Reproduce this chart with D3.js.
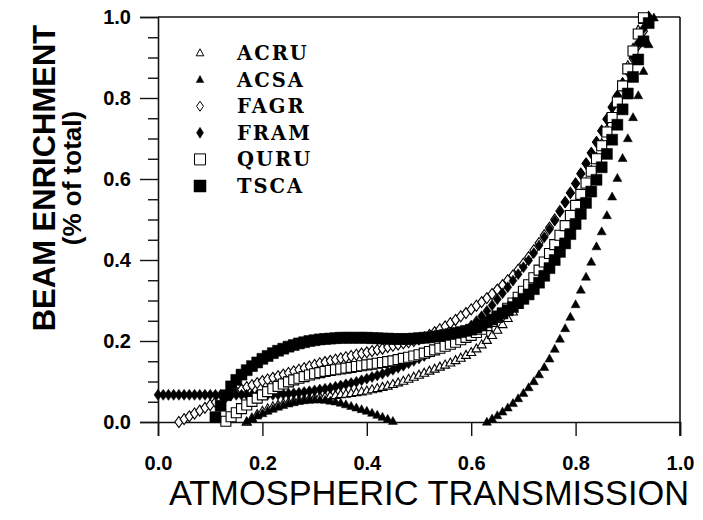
<!DOCTYPE html>
<html><head><meta charset="utf-8">
<script src="https://cdn.jsdelivr.net/npm/d3@7/dist/d3.min.js"></script>
<style>body{margin:0;background:#fff}svg{display:block}</style>
</head><body>
<svg id="chart" width="703" height="520"></svg>
<script>
// ---------- data ----------
const seriesNames = ["ACRU", "ACSA", "FAGR", "FRAM", "QURU", "TSCA"];
const xTicks = [0.0, 0.2, 0.4, 0.6, 0.8, 1.0];
const yTicks = [0.0, 0.2, 0.4, 0.6, 0.8, 1.0];
const yMinorTicks = [0.05, 0.1, 0.15, 0.25, 0.3, 0.35, 0.45, 0.5, 0.55, 0.65, 0.7, 0.75, 0.85, 0.9, 0.95];

const acru = [[0.17,0.000],[0.18,0.010],[0.19,0.019],[0.20,0.027],[0.21,0.033],[0.22,0.038],[0.23,0.042],[0.24,0.046],[0.25,0.049],[0.26,0.052],
[0.27,0.054],[0.28,0.056],[0.29,0.058],[0.30,0.060],[0.31,0.062],[0.32,0.063],[0.33,0.065],[0.34,0.066],[0.35,0.068],[0.36,0.069],
[0.37,0.071],[0.38,0.073],[0.39,0.075],[0.40,0.077],[0.41,0.080],[0.42,0.083],[0.43,0.086],[0.44,0.089],[0.45,0.093],[0.46,0.097],
[0.47,0.101],[0.48,0.106],[0.49,0.111],[0.50,0.116],[0.51,0.121],[0.52,0.126],[0.53,0.131],[0.54,0.136],[0.55,0.141],[0.56,0.146],
[0.57,0.152],[0.58,0.158],[0.59,0.165],[0.60,0.172],[0.61,0.181],[0.62,0.191],[0.63,0.202],[0.64,0.214],[0.65,0.227],[0.66,0.241],
[0.67,0.256],[0.68,0.272],[0.69,0.288],[0.70,0.305],[0.71,0.323],[0.72,0.342],[0.73,0.362],[0.74,0.383],[0.75,0.405],[0.76,0.428],
[0.77,0.452],[0.78,0.478],[0.79,0.504],[0.80,0.532],[0.81,0.561],[0.82,0.591],[0.83,0.622],[0.84,0.654],[0.85,0.688],[0.86,0.723],
[0.87,0.760],[0.88,0.798],[0.89,0.838],[0.90,0.880],[0.91,0.923],[0.92,0.968],[0.93,0.992]];

const acsa = [[0.17,0.001],[0.18,0.008],[0.19,0.015],[0.20,0.021],[0.21,0.027],[0.22,0.032],[0.23,0.037],[0.24,0.041],[0.25,0.045],[0.26,0.048],
[0.27,0.051],[0.28,0.053],[0.29,0.054],[0.30,0.055],[0.31,0.055],[0.32,0.054],[0.33,0.052],[0.34,0.050],[0.35,0.047],[0.36,0.043],
[0.37,0.039],[0.38,0.035],[0.39,0.031],[0.40,0.027],[0.41,0.022],[0.42,0.017],[0.43,0.012],[0.44,0.007],[0.45,0.002],
[0.63,0.000],[0.64,0.008],[0.65,0.016],[0.66,0.025],[0.67,0.035],[0.68,0.046],[0.69,0.058],[0.70,0.071],[0.71,0.085],[0.72,0.100],
[0.73,0.117],[0.74,0.135],[0.75,0.156],[0.76,0.180],[0.77,0.205],[0.78,0.231],[0.79,0.259],[0.80,0.290],[0.81,0.326],[0.82,0.358],
[0.83,0.395],[0.84,0.433],[0.85,0.470],[0.86,0.510],[0.87,0.556],[0.88,0.602],[0.89,0.651],[0.90,0.700],[0.91,0.752],[0.92,0.806],
[0.93,0.866],[0.94,0.932],[0.95,0.998]];

const fagr = [[0.04,0.000],[0.05,0.007],[0.06,0.014],[0.07,0.021],[0.08,0.028],[0.09,0.035],[0.10,0.042],[0.11,0.049],[0.12,0.056],[0.13,0.062],
[0.14,0.068],[0.15,0.074],[0.16,0.080],[0.17,0.086],[0.18,0.091],[0.19,0.096],[0.20,0.101],[0.21,0.105],[0.22,0.109],[0.23,0.113],
[0.24,0.117],[0.25,0.121],[0.26,0.125],[0.27,0.129],[0.28,0.133],[0.29,0.137],[0.30,0.141],[0.31,0.145],[0.32,0.148],[0.33,0.151],
[0.34,0.154],[0.35,0.157],[0.36,0.160],[0.37,0.163],[0.38,0.166],[0.39,0.169],[0.40,0.172],[0.41,0.175],[0.42,0.178],[0.43,0.181],
[0.44,0.185],[0.45,0.188],[0.46,0.191],[0.47,0.194],[0.48,0.197],[0.49,0.200],[0.50,0.204],[0.51,0.209],[0.52,0.215],[0.53,0.222],
[0.54,0.229],[0.55,0.236],[0.56,0.244],[0.57,0.252],[0.58,0.261],[0.59,0.269],[0.60,0.278],[0.61,0.287],[0.62,0.296],[0.63,0.306],
[0.64,0.316],[0.65,0.327],[0.66,0.338],[0.67,0.350],[0.68,0.362],[0.69,0.376],[0.70,0.391],[0.71,0.407],[0.72,0.424],[0.73,0.442],
[0.74,0.461],[0.75,0.480],[0.76,0.500],[0.77,0.521],[0.78,0.543],[0.79,0.566],[0.80,0.589],[0.81,0.613],[0.82,0.638],[0.83,0.664],
[0.84,0.691],[0.85,0.719],[0.86,0.748],[0.87,0.778],[0.88,0.805],[0.89,0.835],[0.90,0.866],[0.91,0.898],[0.92,0.931],[0.93,0.965],
[0.94,1.000]];

const fram = [[0.00,0.067],[0.01,0.067],[0.02,0.067],[0.03,0.067],[0.04,0.067],[0.05,0.067],[0.06,0.067],[0.07,0.067],[0.08,0.067],[0.09,0.067],
[0.10,0.067],[0.11,0.067],[0.12,0.067],[0.13,0.067],[0.14,0.067],[0.15,0.067],[0.16,0.067],[0.17,0.067],[0.18,0.067],[0.19,0.067],
[0.20,0.067],[0.21,0.067],[0.22,0.067],[0.23,0.068],[0.24,0.069],[0.25,0.070],[0.26,0.071],[0.27,0.072],[0.28,0.074],[0.29,0.076],
[0.30,0.078],[0.31,0.080],[0.32,0.082],[0.33,0.084],[0.34,0.087],[0.35,0.090],[0.36,0.093],[0.37,0.096],[0.38,0.099],[0.39,0.103],
[0.40,0.107],[0.41,0.111],[0.42,0.115],[0.43,0.119],[0.44,0.124],[0.45,0.129],[0.46,0.134],[0.47,0.139],[0.48,0.145],[0.49,0.151],
[0.50,0.157],[0.51,0.163],[0.52,0.170],[0.53,0.177],[0.54,0.184],[0.55,0.192],[0.56,0.200],[0.57,0.209],[0.58,0.218],[0.59,0.228],
[0.60,0.238],[0.61,0.249],[0.62,0.261],[0.63,0.274],[0.64,0.288],[0.65,0.303],[0.66,0.318],[0.67,0.333],[0.68,0.349],[0.69,0.365],
[0.70,0.382],[0.71,0.399],[0.72,0.417],[0.73,0.436],[0.74,0.456],[0.75,0.476],[0.76,0.497],[0.77,0.519],[0.78,0.542],[0.79,0.565],
[0.80,0.589],[0.81,0.614],[0.82,0.639],[0.83,0.665],[0.84,0.692],[0.85,0.719],[0.86,0.747],[0.87,0.776],[0.88,0.806],[0.89,0.837],
[0.90,0.869],[0.91,0.902],[0.92,0.936],[0.93,0.971],[0.94,1.000]];

const quru = [[0.13,0.002],[0.14,0.013],[0.15,0.023],[0.16,0.033],[0.17,0.042],[0.18,0.051],[0.19,0.059],[0.20,0.067],[0.21,0.075],[0.22,0.082],
[0.23,0.088],[0.24,0.094],[0.25,0.099],[0.26,0.104],[0.27,0.108],[0.28,0.112],[0.29,0.116],[0.30,0.119],[0.31,0.122],[0.32,0.125],
[0.33,0.127],[0.34,0.129],[0.35,0.131],[0.36,0.133],[0.37,0.135],[0.38,0.137],[0.39,0.139],[0.40,0.141],[0.41,0.143],[0.42,0.145],
[0.43,0.147],[0.44,0.149],[0.45,0.151],[0.46,0.154],[0.47,0.157],[0.48,0.160],[0.49,0.163],[0.50,0.166],[0.51,0.170],[0.52,0.174],
[0.53,0.178],[0.54,0.182],[0.55,0.187],[0.56,0.192],[0.57,0.197],[0.58,0.203],[0.59,0.209],[0.60,0.214],[0.61,0.221],[0.62,0.229],
[0.63,0.238],[0.64,0.248],[0.65,0.258],[0.66,0.269],[0.67,0.281],[0.68,0.294],[0.69,0.308],[0.70,0.323],[0.71,0.339],[0.72,0.356],
[0.73,0.375],[0.74,0.395],[0.75,0.416],[0.76,0.438],[0.77,0.461],[0.78,0.485],[0.79,0.510],[0.80,0.535],[0.81,0.562],[0.82,0.590],
[0.83,0.619],[0.84,0.650],[0.85,0.682],[0.86,0.716],[0.87,0.752],[0.88,0.790],[0.89,0.830],[0.90,0.872],[0.91,0.916],[0.92,0.958],
[0.93,0.998]];

const tsca = [[0.11,0.012],[0.12,0.040],[0.13,0.066],[0.14,0.088],[0.15,0.104],[0.16,0.117],[0.17,0.128],[0.18,0.138],[0.19,0.147],[0.20,0.156],
[0.21,0.163],[0.22,0.170],[0.23,0.176],[0.24,0.181],[0.25,0.186],[0.26,0.190],[0.27,0.194],[0.28,0.197],[0.29,0.200],[0.30,0.202],
[0.31,0.204],[0.32,0.205],[0.33,0.206],[0.34,0.207],[0.35,0.208],[0.36,0.208],[0.37,0.208],[0.38,0.208],[0.39,0.208],[0.40,0.208],
[0.41,0.207],[0.42,0.207],[0.43,0.206],[0.44,0.206],[0.45,0.205],[0.46,0.205],[0.47,0.205],[0.48,0.205],[0.49,0.206],[0.50,0.207],
[0.51,0.208],[0.52,0.209],[0.53,0.211],[0.54,0.213],[0.55,0.215],[0.56,0.217],[0.57,0.220],[0.58,0.222],[0.59,0.225],[0.60,0.228],
[0.61,0.233],[0.62,0.239],[0.63,0.246],[0.64,0.253],[0.65,0.261],[0.66,0.268],[0.67,0.276],[0.68,0.284],[0.69,0.294],[0.70,0.304],
[0.71,0.315],[0.72,0.328],[0.73,0.344],[0.74,0.361],[0.75,0.380],[0.76,0.400],[0.77,0.420],[0.78,0.441],[0.79,0.464],[0.80,0.489],
[0.81,0.514],[0.82,0.541],[0.83,0.569],[0.84,0.598],[0.85,0.629],[0.86,0.662],[0.87,0.697],[0.88,0.734],[0.89,0.772],[0.90,0.811],
[0.91,0.852],[0.92,0.895],[0.93,0.940],[0.94,0.985]];

// ---------- drawing ----------
const svg = d3.select("#chart");
const x = d3.scaleLinear().domain([0, 1]).range([158, 680]);
const y = d3.scaleLinear().domain([0, 1]).range([422, 17]);

// custom symbol shapes (width w, height h)
const tri = (w, h) => ({draw(c) { c.moveTo(0, -h * 0.6); c.lineTo(w / 2, h * 0.4); c.lineTo(-w / 2, h * 0.4); c.closePath(); }});
const dia = (w, h) => ({draw(c) { c.moveTo(0, -h / 2); c.lineTo(w / 2, 0); c.lineTo(0, h / 2); c.lineTo(-w / 2, 0); c.closePath(); }});
const sq = (s) => ({draw(c) { c.rect(-s / 2, -s / 2, s, s); }});

const styles = {
  ACRU: {plot: tri(9, 8), leg: tri(7.5, 7), filled: false},
  ACSA: {plot: tri(9, 8), leg: tri(7.5, 7), filled: true},
  FAGR: {plot: dia(8, 11), leg: dia(7, 10), filled: false},
  FRAM: {plot: dia(8, 11), leg: dia(7, 11), filled: true},
  QURU: {plot: sq(10), leg: sq(11), filled: false},
  TSCA: {plot: sq(11), leg: sq(12), filled: true}
};
const seriesData = {ACRU: acru, ACSA: acsa, FAGR: fagr, FRAM: fram, QURU: quru, TSCA: tsca};

// axes
const axisColor = "#111";
const gx = svg.append("g").attr("transform", "translate(0,422)")
  .call(d3.axisBottom(x).tickValues(xTicks).tickSize(14).tickPadding(20).tickFormat(d3.format(".1f")));
const gy = svg.append("g").attr("transform", "translate(158,0)")
  .call(d3.axisLeft(y).tickValues(yTicks).tickSize(18).tickPadding(9).tickFormat(d3.format(".1f")));
const gym = svg.append("g").attr("transform", "translate(158,0)")
  .call(d3.axisLeft(y).tickValues(yMinorTicks).tickSize(10).tickFormat(""));
[gx, gy, gym].forEach(g => {
  g.select(".domain").attr("stroke", axisColor).attr("stroke-width", 1.6);
  g.selectAll(".tick line").attr("stroke", axisColor).attr("stroke-width", 1.4);
  g.selectAll("text").attr("fill", "#000")
    .style("font-family", "'Liberation Sans', Arial, sans-serif")
    .style("font-size", "20px").style("font-weight", "bold");
});
gym.select(".domain").remove();
// top and right frame
svg.append("line").attr("x1", x(0)).attr("x2", x(1)).attr("y1", y(1)).attr("y2", y(1))
  .attr("stroke", axisColor).attr("stroke-width", 1.6);
svg.append("line").attr("x1", x(1)).attr("x2", x(1)).attr("y1", y(1)).attr("y2", y(0) + 14)
  .attr("stroke", axisColor).attr("stroke-width", 1.6);

// points
const plotG = svg.append("g");
seriesNames.forEach(name => {
  const st = styles[name];
  const sym = d3.symbol().type(st.plot);
  plotG.append("g").selectAll("path").data(seriesData[name]).join("path")
    .attr("transform", d => `translate(${x(d[0])},${y(d[1])})`)
    .attr("d", sym)
    .attr("fill", st.filled ? "#000" : "#fff")
    .attr("stroke", "#000")
    .attr("stroke-width", st.filled ? 0.5 : 1.1);
});

// legend
const legend = svg.append("g");
seriesNames.forEach((name, i) => {
  const st = styles[name];
  const cy = 53 + i * 26.6;
  legend.append("path").attr("transform", `translate(200,${cy})`)
    .attr("d", d3.symbol().type(st.leg)())
    .attr("fill", st.filled ? "#000" : "#fff").attr("stroke", "#000").attr("stroke-width", st.filled ? 0.5 : 1);
  legend.append("text").attr("x", 237).attr("y", cy + 7).text(name)
    .style("font-family", "'DejaVu Serif', 'Liberation Serif', serif")
    .style("font-size", "19.5px").style("font-weight", "bold").style("letter-spacing", "2px");
});

// titles
svg.append("text").attr("x", 429).attr("y", 505).attr("text-anchor", "middle")
  .attr("textLength", 520).attr("lengthAdjust", "spacingAndGlyphs")
  .style("font-family", "'Liberation Sans', Arial, sans-serif").style("font-size", "35px")
  .text("ATMOSPHERIC TRANSMISSION");
svg.append("text").attr("transform", "translate(55,178) rotate(-90)").attr("text-anchor", "middle")
  .style("font-family", "'Liberation Sans', Arial, sans-serif").style("font-size", "31px").style("font-weight", "bold")
  .text("BEAM ENRICHMENT");
svg.append("text").attr("transform", "translate(81,178) rotate(-90)").attr("text-anchor", "middle")
  .style("font-family", "'Liberation Sans', Arial, sans-serif").style("font-size", "26px").style("font-weight", "bold")
  .text("(% of total)");
</script>
</body></html>
